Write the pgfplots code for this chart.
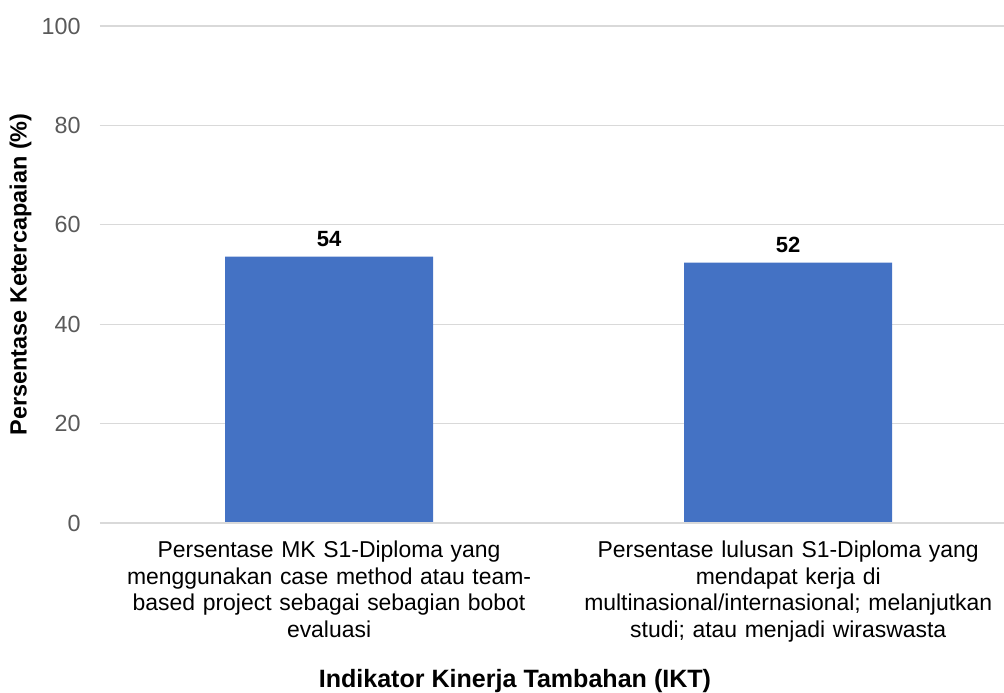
\documentclass[border=0pt]{standalone}
\usepackage{fontspec}
\setmainfont{Liberation Sans}
\usepackage{pgfplots}
\pgfplotsset{compat=1.18}
\definecolor{barblue}{HTML}{4472C4}
\definecolor{gridgray}{HTML}{D9D9D9}
\definecolor{tickgray}{HTML}{595959}

\begin{document}
\begin{tikzpicture}
\useasboundingbox (0,0) rectangle (753pt,519.75pt);
\begin{axis}[
  at={(75pt,127.5pt)}, anchor=south west,
  scale only axis,
  width=678pt, height=372.75pt,
  xmin=-0.499, xmax=1.47,
  ymin=0, ymax=100,
  ytick={0,20,40,60,80,100},
  xtick={0,1},
  xticklabels={
    {Persentase MK S1-Diploma yang\\menggunakan case method atau team-\\based project sebagai sebagian bobot\\evaluasi},
    {Persentase lulusan S1-Diploma yang\\mendapat kerja di\\multinasional/internasional; melanjutkan\\studi; atau menjadi wiraswasta}},
  /pgf/number format/assume math mode=true,
  axis line style={draw=none},
  major tick length=0pt,
  ymajorgrids, grid style={gridgray, line width=0.9pt},
  yticklabel style={font=\fontsize{17.5}{20}\selectfont, text=tickgray, xshift=-11pt},
  xticklabel style={font=\fontsize{17.2}{20}\selectfont, align=center, text width=340pt, yshift=-10pt},
  ylabel={\textbf{Persentase Ketercapaian (\%)}},
  ylabel style={font=\fontsize{17.6}{20}\selectfont, at={(axis description cs:-0.088,0.5)}, anchor=center},
  xlabel={\textbf{Indikator Kinerja Tambahan (IKT)}},
  xlabel style={font=\fontsize{18.8}{22}\selectfont, at={(axis description cs:0.459,-0.318)}, anchor=center},
  clip=false,
]
\addplot[ybar, bar width=156pt, fill=barblue, draw=none,
  nodes near coords={\pgfmathprintnumber[fixed,precision=0]{\pgfplotspointmeta}},
  nodes near coords style={font=\bfseries\fontsize{16.5}{20}\selectfont, text=black, yshift=4pt}]
  coordinates {(0,53.6) (1,52.4)};
\draw[gridgray, line width=0.9pt] (axis cs:-0.499,0) -- (axis cs:1.47,0);
\end{axis}
\end{tikzpicture}
\end{document}
